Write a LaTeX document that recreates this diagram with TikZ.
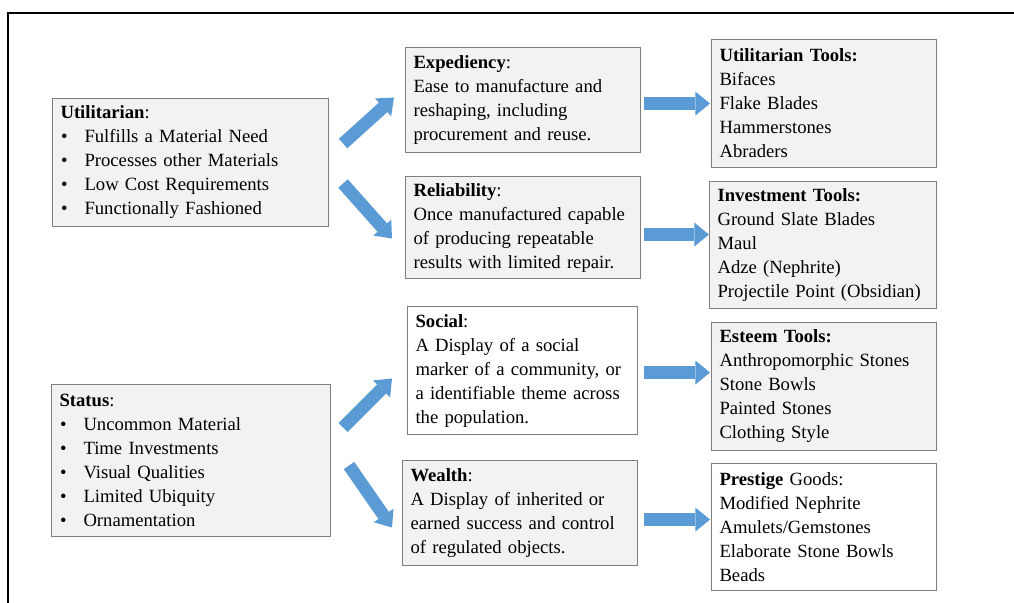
\documentclass[tikz,border=0pt]{standalone}
\usepackage{fontspec}
\setmainfont{Liberation Serif}
\usetikzlibrary{arrows.meta, calc}

\definecolor{arrowblue}{HTML}{5B9BD5}
\definecolor{boxfill}{HTML}{F2F2F2}
\definecolor{boxedge}{HTML}{7F7F7F}
\newcommand{\bitem}[1]{\makebox[18pt][l]{\hspace{0.5pt}\textbullet}#1}

\begin{document}
\begin{tikzpicture}[x=0.75pt, y=-0.75pt,
  box/.style={draw=boxedge, line width=0.8pt, anchor=north west, align=left,
    inner xsep=6pt, inner ysep=4pt, font=\fontsize{14}{18}\selectfont},
  greybox/.style={box, fill=boxfill},
  plainbox/.style={box, fill=white},
  fatarrow/.style={draw=arrowblue, line width=9.5pt,
    -{Triangle[width=18pt, length=11pt, line width=0pt]}}]
  \useasboundingbox (0, 0) rectangle (1014, 603);

  % cadre
  \draw[line width=1.5pt] (8, 603) -- (8, 13) -- (1014, 13);

  % catégories
  \node[greybox, text width=195pt, minimum height=96pt] (util) at (52, 98)
    {\textbf{Utilitarian}:\\
     \bitem{Fulfills a Material Need}\\
     \bitem{Processes other Materials}\\
     \bitem{Low Cost Requirements}\\
     \bitem{Functionally Fashioned}};
  \node[greybox, text width=197.25pt, minimum height=114pt] (status) at (51, 384)
    {\textbf{Status}:\\
     \bitem{Uncommon Material}\\
     \bitem{Time Investments}\\
     \bitem{Visual Qualities}\\
     \bitem{Limited Ubiquity}\\
     \bitem{Ornamentation}};

  % propriétés
  \node[greybox, text width=164.25pt, minimum height=78.75pt] (exped) at (405, 47)
    {\textbf{Expediency}:\\ Ease to manufacture and\\ reshaping, including\\ procurement and reuse.};
  \node[greybox, text width=164.25pt, minimum height=76.5pt] (reliab) at (405, 176)
    {\textbf{Reliability}:\\ Once manufactured capable\\ of producing repeatable\\ results with limited repair.};
  \node[plainbox, text width=160.5pt, minimum height=96pt] (social) at (407, 306)
    {\textbf{Social}:\\ A Display of a social\\ marker of a community, or\\ a identifiable theme across\\ the population.};
  \node[greybox, text width=164.25pt, minimum height=78.75pt] (wealth) at (402, 460)
    {\textbf{Wealth}:\\ A Display of inherited or\\ earned success and control\\ of regulated objects.};

  % outils
  \node[greybox, text width=156.75pt, minimum height=96pt] (utools) at (711, 39)
    {\textbf{Utilitarian Tools:}\\ Bifaces\\ Flake Blades\\ Hammerstones\\ Abraders};
  \node[greybox, text width=158.25pt, minimum height=95.25pt] (itools) at (709, 181)
    {\textbf{Investment Tools:}\\ Ground Slate Blades\\ Maul\\ Adze (Nephrite)\\ Projectile Point (Obsidian)};
  \node[greybox, text width=156.75pt, minimum height=96pt] (etools) at (711, 322)
    {\textbf{Esteem Tools:}\\ Anthropomorphic Stones\\ Stone Bowls\\ Painted Stones\\ Clothing Style};
  \node[plainbox, text width=156.75pt, minimum height=95.25pt] (pgoods) at (711, 463)
    {\textbf{Prestige} Goods:\\ Modified Nephrite\\ Amulets/Gemstones\\ Elaborate Stone Bowls\\ Beads};

  % flèches catégories --> propriétés
  \draw[fatarrow] ($(util.east)+(14,-19)$) -- ($(exped.west)+(-11,-2.5)$);
  \draw[fatarrow] ($(util.east)+(14,21)$) -- ($(reliab.west)+(-13,11)$);
  \draw[fatarrow] ($(status.east)+(12,-33)$) -- ($(social.west)+(-15,8)$);
  \draw[fatarrow] ($(status.east)+(18,5)$) -- ($(wealth.west)+(-10,14.5)$);

  % flèches propriétés --> outils
  \draw[fatarrow] ($(exped.east)+(3,3.5)$) -- ($(utools.west)+(-1,0)$);
  \draw[fatarrow] ($(reliab.east)+(3,7)$) -- ($(itools.west)+(0,-10.5)$);
  \draw[fatarrow] ($(social.east)+(6,2)$) -- ($(etools.west)+(-1,-14)$);
  \draw[fatarrow] ($(wealth.east)+(6,6.5)$) -- ($(pgoods.west)+(-1,-7.5)$);
\end{tikzpicture}
\end{document}
